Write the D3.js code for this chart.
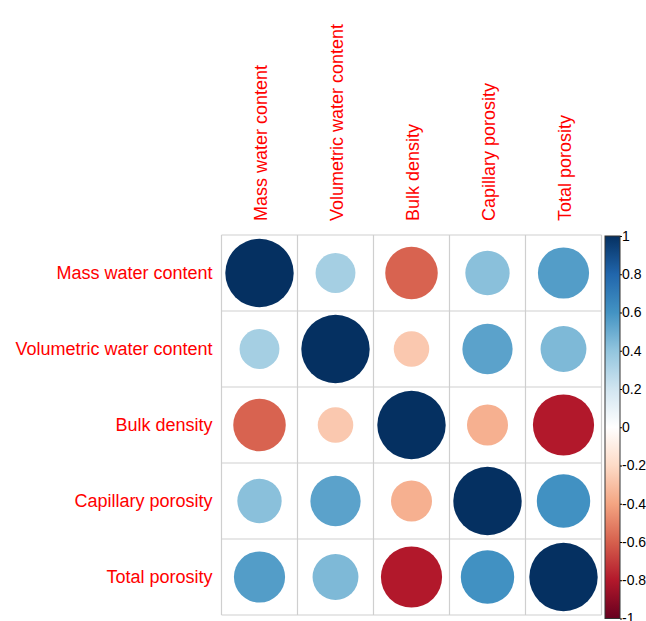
<!DOCTYPE html>
<html><head><meta charset="utf-8">
<script src="https://cdn.jsdelivr.net/npm/d3@7"></script>
<style>html,body{margin:0;padding:0;background:#fff;}svg{display:block;}</style>
</head><body>
<script>
const variables = ["Mass water content","Volumetric water content","Bulk density","Capillary porosity","Total porosity"];
const rowMass     = [1.00, 0.34, -0.59, 0.42, 0.56];
const rowVol      = [0.34, 1.00, -0.27, 0.54, 0.45];
const rowBulk     = [-0.59, -0.27, 1.00, -0.36, -0.80];
const rowCap      = [0.42, 0.54, -0.36, 1.00, 0.61];
const rowTotal    = [0.56, 0.45, -0.80, 0.61, 1.00];
const corrRows = [rowMass, rowVol, rowBulk, rowCap, rowTotal];
const colorStops = ["#67001F","#B2182B","#D6604D","#F4A582","#FDDBC7","#FFFFFF","#D1E5F0","#92C5DE","#4393C3","#2166AC","#053061"];
const barTicks = [1,0.8,0.6,0.4,0.2,0,-0.2,-0.4,-0.6,-0.8,-1];

const W=646,H=621;
const svg=d3.select("body").append("svg").attr("width",W).attr("height",H);
const gx0=221.5, gy0=235, cell=76;
const x=d3.scaleBand().domain(variables).range([gx0,gx0+cell*5]);
const y=d3.scaleBand().domain(variables).range([gy0,gy0+cell*5]);
const color=d3.scaleLinear().domain(d3.range(11).map(i=>-1+i*0.2)).range(colorStops);

const cells=[];
corrRows.forEach((r,i)=>r.forEach((v,j)=>cells.push({row:variables[i],col:variables[j],v})));

// circles
svg.append("g").selectAll("circle").data(cells).join("circle")
  .attr("cx",d=>x(d.col)+cell/2).attr("cy",d=>y(d.row)+cell/2)
  .attr("r",d=>0.45*cell*Math.sqrt(Math.abs(d.v)))
  .attr("fill",d=>color(d.v));

// grid
const grid=svg.append("g").attr("stroke","#cfcfcf").attr("stroke-width",1.2);
for(let k=0;k<=5;k++){
  grid.append("line").attr("x1",gx0+k*cell).attr("x2",gx0+k*cell).attr("y1",gy0).attr("y2",gy0+5*cell);
  grid.append("line").attr("y1",gy0+k*cell).attr("y2",gy0+k*cell).attr("x1",gx0).attr("x2",gx0+5*cell);
}

// row labels
svg.append("g").selectAll("text").data(variables).join("text")
  .attr("x",gx0-9).attr("y",d=>y(d)+cell/2).attr("dy","0.35em")
  .attr("text-anchor","end").attr("fill","#FF0000")
  .style("font-family","Liberation Sans, Arial, sans-serif").style("font-size","18px")
  .text(d=>d);
// column labels
svg.append("g").selectAll("text").data(variables).join("text")
  .attr("transform",d=>`translate(${x(d)+cell/2+7},${gy0-14}) rotate(-90)`)
  .attr("text-anchor","start").attr("fill","#FF0000")
  .style("font-family","Liberation Sans, Arial, sans-serif").style("font-size","18px")
  .text(d=>d);

// colorbar
const bx=605,bw=15;
const by=d3.scaleLinear().domain([-1,1]).range([618.5,236]);
const defs=svg.append("defs");
const grad=defs.append("linearGradient").attr("id","cb").attr("x1",0).attr("y1",1).attr("x2",0).attr("y2",0);
colorStops.forEach((c,i)=>grad.append("stop").attr("offset",i/10).attr("stop-color",c));
svg.append("rect").attr("x",bx).attr("y",by(1)).attr("width",bw).attr("height",by(-1)-by(1))
  .attr("fill","url(#cb)").attr("stroke","#333").attr("stroke-width",1);
const axis=d3.axisRight(by).tickValues(barTicks).tickSize(2).tickFormat(d=>d===0?"0":String(d));
const ag=svg.append("g").attr("transform",`translate(${bx+bw},0)`).call(axis);
ag.select(".domain").remove();
ag.selectAll("text").attr("x",2).style("font-family","Liberation Sans, Arial, sans-serif").style("font-size","14px").attr("fill","#000");
</script>
</body></html>
